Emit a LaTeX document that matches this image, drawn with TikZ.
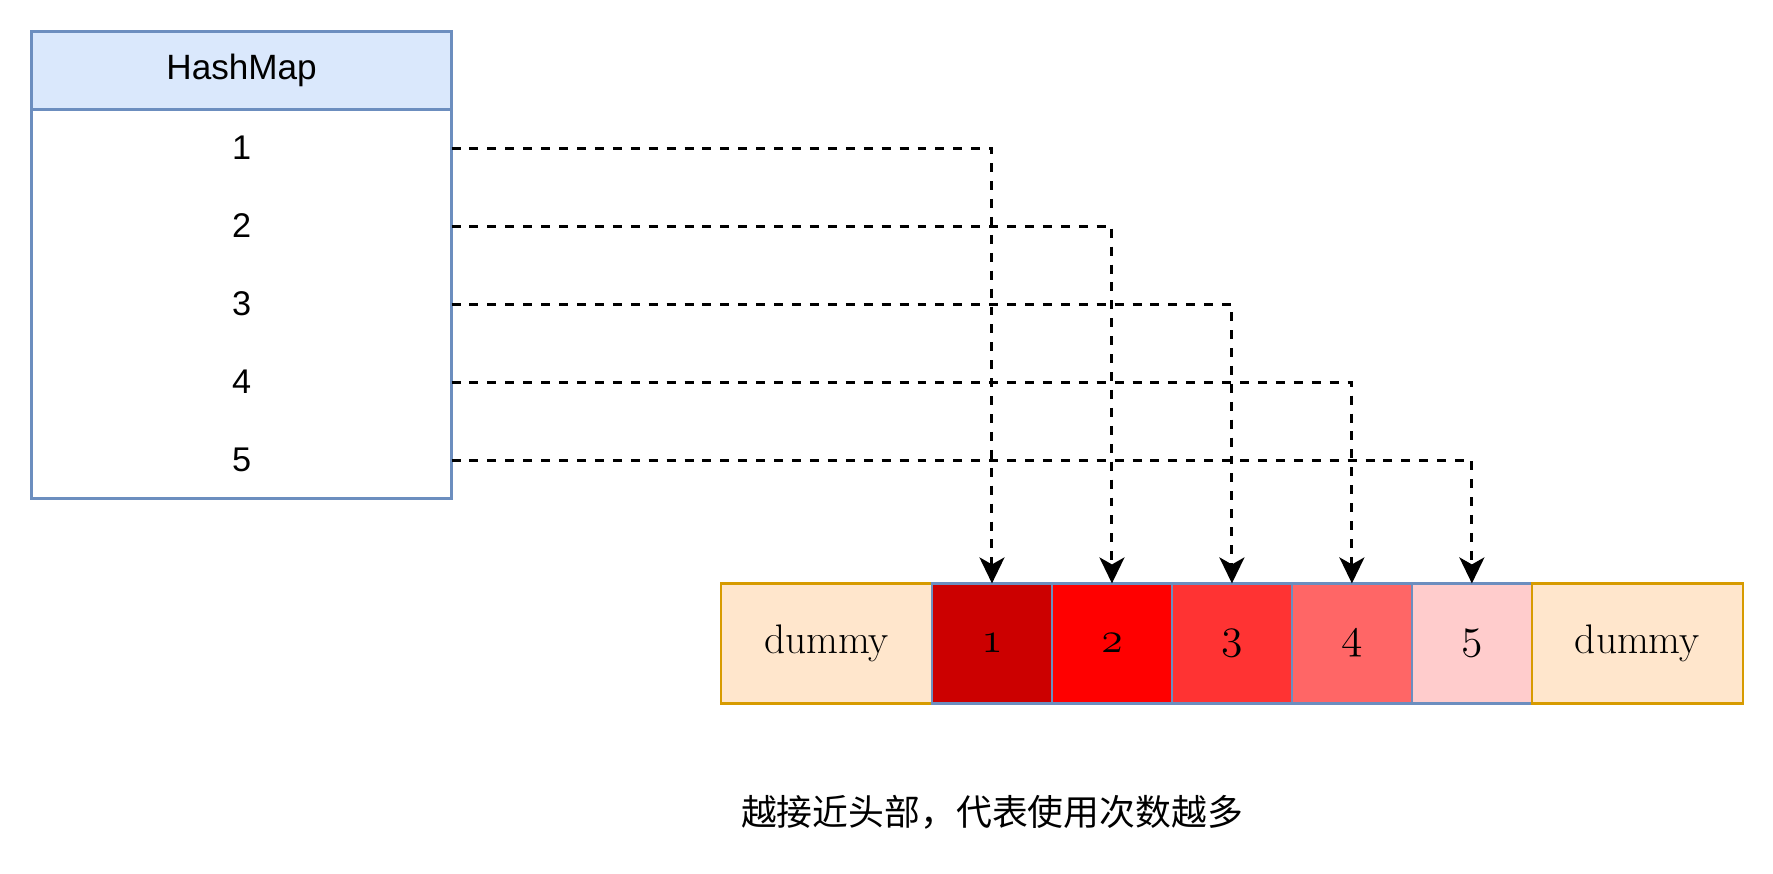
\documentclass[tikz,border=0pt]{standalone}
\usepackage{fontspec}
\usepackage{xcolor}
\usetikzlibrary{arrows.meta, positioning}
\newfontfamily\hfont{Liberation Sans}
\newfontfamily\cjkfont{Noto Sans CJK SC}

\definecolor{mapfill}{HTML}{DAE8FC}
\definecolor{mapline}{HTML}{6C8EBF}
\definecolor{dumfill}{HTML}{FFE6CC}
\definecolor{dumline}{HTML}{D79B00}
\definecolor{heatA}{HTML}{CC0000}
\definecolor{heatB}{HTML}{FF0000}
\definecolor{heatC}{HTML}{FF3333}
\definecolor{heatD}{HTML}{FF6666}
\definecolor{heatE}{HTML}{FFCCCC}

\begin{document}
\begin{tikzpicture}[x=0.02cm, y=-0.02cm,
    every node/.style={outer sep=0pt},
    mapbox/.style={draw=mapline, line width=1.5pt, minimum width=8.4cm, inner sep=0pt},
    rowtext/.style={minimum width=8.4cm, inner sep=0pt, font=\hfont\fontsize{19.5}{23}\selectfont},
    dumbox/.style={draw=dumline, fill=dumfill, line width=1.5pt, minimum width=4.22cm, minimum height=2.4cm, font=\fontsize{23.5}{27}\selectfont},
    cellbox/.style={draw=mapline, line width=1.5pt, minimum width=2.4cm, minimum height=2.4cm, font=\fontsize{25}{29}\selectfont},
    link/.style={line width=1.7pt, dash pattern=on 5.1pt off 5.1pt, -{Stealth[length=0.52cm, width=0.5cm, inset=0.14cm]}}]
    \useasboundingbox (0,0) rectangle (1773,873);

    % HashMap 表
    \node[mapbox, fill=mapfill, minimum height=1.56cm, font=\hfont\fontsize{20}{24}\selectfont] (head) at (241.6,70.7) {HashMap};
    \node[mapbox, minimum height=7.78cm, below=0pt of head] (body) {};
    \node[rowtext] (r1) at (241.6,148) {1};
    \node[rowtext] (r2) at (241.6,226) {2};
    \node[rowtext] (r3) at (241.6,304) {3};
    \node[rowtext] (r4) at (241.6,382) {4};
    \node[rowtext] (r5) at (241.6,460) {5};

    % 双向链表
    \node[dumbox] (dl) at (826.5,643.4) {dummy};
    \node[cellbox, fill=heatA, right=0pt of dl] (c1) {$\mathnormal{1}$};
    \node[cellbox, fill=heatB, right=0pt of c1] (c2) {$\mathnormal{2}$};
    \node[cellbox, fill=heatC, right=0pt of c2] (c3) {$\mathnormal{3}$};
    \node[cellbox, fill=heatD, right=0pt of c3] (c4) {$\mathnormal{4}$};
    \node[cellbox, fill=heatE, right=0pt of c4] (c5) {$\mathnormal{5}$};
    \node[dumbox, right=0pt of c5] (dr) {dummy};

    % 指针
    \draw[link] (r1.east) -| (c1.north);
    \draw[link] (r2.east) -| (c2.north);
    \draw[link] (r3.east) -| (c3.north);
    \draw[link] (r4.east) -| (c4.north);
    \draw[link] (r5.east) -| (c5.north);

    % 说明
    \node[font=\cjkfont\fontsize{20.4}{24}\selectfont] (note) at (992,812) {越接近头部，代表使用次数越多};
\end{tikzpicture}
\end{document}
